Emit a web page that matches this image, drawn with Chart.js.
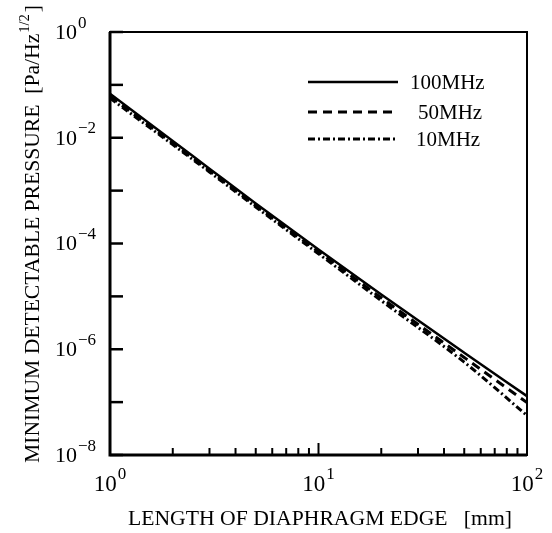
<!DOCTYPE html>
<html>
<head>
<meta charset="utf-8">
<script src="https://cdn.jsdelivr.net/npm/chart.js@4/dist/chart.umd.min.js"></script>
<style>
  html, body { margin: 0; padding: 0; background: #fff; }
  #wrap { width: 552px; height: 533px; position: relative; }
</style>
</head>
<body>
<div id="wrap"><canvas id="c" width="552" height="533"></canvas></div>
<script>
// ---- data ----
const lengthMm = [1, 2, 3, 5, 10, 20, 50, 100];
const p100MHz = [0.068, 8.7e-3, 2.6e-3, 5.7e-4, 7.7e-5, 1.08e-5, 8.6e-7, 1.3e-7];
const p50MHz  = [0.061, 7.9e-3, 2.4e-3, 5.2e-4, 7.0e-5, 9.4e-6, 7.0e-7, 9.8e-8];
const p10MHz  = [0.056, 7.4e-3, 2.25e-3, 4.9e-4, 6.4e-5, 8.3e-6, 5.7e-7, 5.6e-8];
const seriesLabels = ['100MHz', '50MHz', '10MHz'];

// tick labels
const yTickExponents = [0, -1, -2, -3, -4, -5, -6, -7, -8];
const yLabelExponents = [0, -2, -4, -6, -8];
const xMajorTicks = [1, 10, 100];
const xMinorTicks = [2, 3, 4, 5, 6, 7, 8, 9, 20, 30, 40, 50, 60, 70, 80, 90];
const xLabelExponents = [0, 1, 2];
const xTitle = 'LENGTH OF DIAPHRAGM EDGE   [mm]';
const yTitleMain = 'MINIMUM DETECTABLE PRESSURE  [Pa/Hz';
const yTitleSup = '1/2';
const yTitleEnd = ']';

const SERIF = '"Liberation Serif", "Times New Roman", serif';

function pts(ys) { return lengthMm.map((x, i) => ({ x: x, y: ys[i] })); }

function drawPower(ctx, x, y, baseSize, expSize, exp, align) {
  const base = '10';
  const expStr = String(exp).replace('-', '\u2212');
  ctx.font = baseSize + 'px ' + SERIF;
  const wb = ctx.measureText(base).width;
  ctx.font = expSize + 'px ' + SERIF;
  const we = ctx.measureText(expStr).width;
  let x0 = x;
  if (align === 'center') x0 = x - (wb + 1 + we) / 2;
  ctx.textBaseline = 'middle';
  ctx.textAlign = 'left';
  ctx.font = baseSize + 'px ' + SERIF;
  ctx.fillText(base, x0, y);
  ctx.font = expSize + 'px ' + SERIF;
  ctx.fillText(expStr, x0 + wb + 1, y - baseSize * 0.45);
}

const decorPlugin = {
  id: 'decor',
  afterDraw(chart) {
    const ctx = chart.ctx;
    const a = chart.chartArea;
    const xs = chart.scales.x, ys = chart.scales.y;
    ctx.save();
    ctx.fillStyle = '#000';
    ctx.strokeStyle = '#000';
    ctx.setLineDash([]);
    // frame
    ctx.lineWidth = 2;
    ctx.strokeRect(a.left, a.top, a.right - a.left, a.bottom - a.top);
    ctx.lineWidth = 3;
    ctx.beginPath();
    ctx.moveTo(a.left, a.top); ctx.lineTo(a.left, a.bottom); ctx.lineTo(a.right, a.bottom);
    ctx.stroke();
    // y ticks (inward)
    ctx.lineWidth = 2.5;
    yTickExponents.forEach(e => {
      const y = ys.getPixelForValue(Math.pow(10, e));
      ctx.beginPath(); ctx.moveTo(a.left, y); ctx.lineTo(a.left + 13, y); ctx.stroke();
    });
    // x ticks (inward)
    ctx.lineWidth = 2;
    xMinorTicks.forEach(v => {
      const x = xs.getPixelForValue(v);
      ctx.beginPath(); ctx.moveTo(x, a.bottom); ctx.lineTo(x, a.bottom - 7); ctx.stroke();
    });
    xMajorTicks.forEach(v => {
      const x = xs.getPixelForValue(v);
      ctx.beginPath(); ctx.moveTo(x, a.bottom); ctx.lineTo(x, a.bottom - 12); ctx.stroke();
    });
    // y tick labels
    yLabelExponents.forEach(e => {
      const y = ys.getPixelForValue(Math.pow(10, e));
      drawPower(ctx, 55, y + 1, 22, 17, e, 'left');
    });
    // x tick labels
    xMajorTicks.forEach((v, i) => {
      const x = xs.getPixelForValue(v);
      drawPower(ctx, x, a.bottom + 30, 23, 17, xLabelExponents[i], 'center');
    });
    // x title (stretched to the reference width)
    ctx.font = '20px ' + SERIF;
    ctx.textAlign = 'left';
    ctx.textBaseline = 'alphabetic';
    const wx = ctx.measureText(xTitle).width;
    const sx = 384 / wx;
    ctx.save();
    ctx.translate(128, 525);
    ctx.scale(sx, 1);
    ctx.fillText(xTitle, 0, 0);
    ctx.restore();
    // y title (rotated)
    ctx.save();
    ctx.translate(39, 463);
    ctx.rotate(-Math.PI / 2);
    ctx.font = '21px ' + SERIF;
    const w1 = ctx.measureText(yTitleMain).width;
    ctx.font = '14px ' + SERIF;
    const w2 = ctx.measureText(yTitleSup).width;
    ctx.font = '21px ' + SERIF;
    const w3 = ctx.measureText(yTitleEnd).width;
    const sy = 458 / (w1 + w2 + w3 + 3);
    ctx.scale(sy, 1);
    ctx.textAlign = 'left';
    ctx.fillText(yTitleMain, 0, 0);
    ctx.font = '14px ' + SERIF;
    ctx.fillText(yTitleSup, w1 + 1, -10);
    ctx.font = '21px ' + SERIF;
    ctx.fillText(yTitleEnd, w1 + w2 + 3, 0);
    ctx.restore();
    // legend
    const legY = [82, 112, 139];
    const legTextX = [410, 418, 416];
    chart.data.datasets.forEach((ds, i) => {
      ctx.lineWidth = ds.borderWidth;
      ctx.setLineDash(ds.borderDash || []);
      ctx.beginPath(); ctx.moveTo(308, legY[i]); ctx.lineTo(398, legY[i]); ctx.stroke();
      ctx.setLineDash([]);
      ctx.font = '21px ' + SERIF;
      ctx.textAlign = 'left';
      ctx.textBaseline = 'middle';
      ctx.fillText(ds.label, legTextX[i], legY[i] + 1);
    });
    ctx.restore();
  }
};

new Chart(document.getElementById('c'), {
  type: 'line',
  data: {
    datasets: [
      { label: seriesLabels[0], data: pts(p100MHz), borderColor: '#000', borderWidth: 2.5, borderDash: [], pointRadius: 0, cubicInterpolationMode: 'monotone', fill: false },
      { label: seriesLabels[1], data: pts(p50MHz), borderColor: '#000', borderWidth: 3, borderDash: [9, 6], pointRadius: 0, cubicInterpolationMode: 'monotone', fill: false },
      { label: seriesLabels[2], data: pts(p10MHz), borderColor: '#000', borderWidth: 3, borderDash: [7, 3, 2, 3], pointRadius: 0, cubicInterpolationMode: 'monotone', fill: false }
    ]
  },
  options: {
    responsive: false,
    animation: false,
    devicePixelRatio: 1,
    layout: { padding: { left: 0, top: 32, right: 25, bottom: 0 } },
    plugins: { legend: { display: false }, tooltip: { enabled: false }, title: { display: false } },
    scales: {
      x: {
        type: 'logarithmic', min: 1, max: 100,
        grid: { display: false }, border: { display: false },
        ticks: { display: false },
        afterFit: s => { s.height = 78; }
      },
      y: {
        type: 'logarithmic', min: 1e-8, max: 1,
        grid: { display: false }, border: { display: false },
        ticks: { display: false },
        afterFit: s => { s.width = 110; }
      }
    }
  },
  plugins: [decorPlugin]
});
</script>
</body>
</html>
